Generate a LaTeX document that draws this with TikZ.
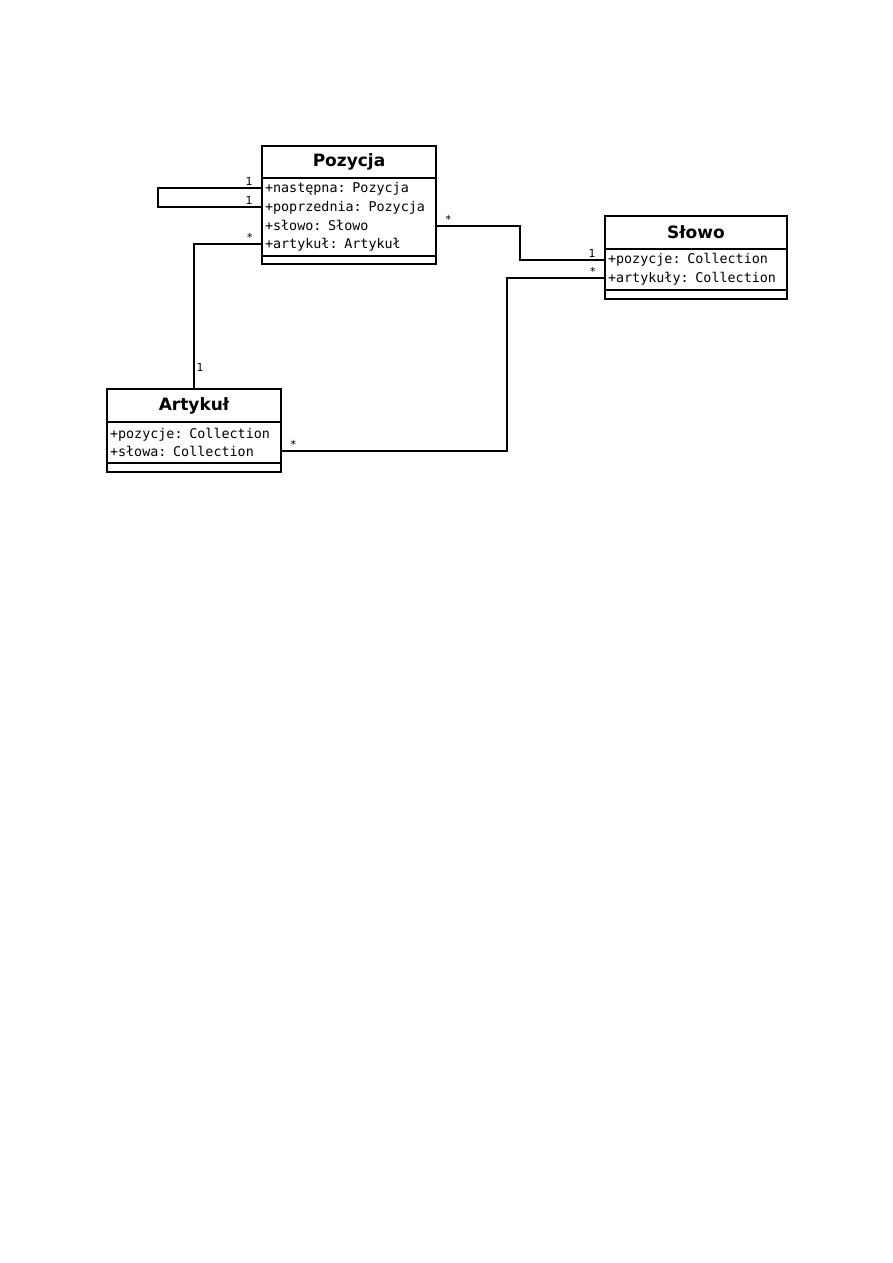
\documentclass[tikz,border=0pt]{standalone}
\usepackage{fontspec}
\newfontfamily\umlsans{DejaVu Sans}
\newfontfamily\umlmono{DejaVu Sans Mono}
\usepackage{tikz}
\usetikzlibrary{positioning}

\begin{document}
\begin{tikzpicture}[x=1pt, y=-1pt, line width=2pt,
  classname/.style={draw, inner sep=0pt, outer sep=0pt, minimum height=32pt, font=\umlsans\bfseries\fontsize{17}{20}\selectfont},
  classattr/.style={draw, inner xsep=3pt, inner ysep=0pt, outer sep=0pt, align=left, font=\umlmono\fontsize{13.4}{18.7}\selectfont},
  classops/.style={draw, inner sep=0pt, outer sep=0pt, minimum height=8pt},
  mult/.style={font=\umlsans\fontsize{11}{13}\selectfont, inner sep=1.5pt},
  multleft/.style={mult, anchor=south east, xshift=-7pt},
  multright/.style={mult, anchor=south west, xshift=7pt}]
\useasboundingbox (0,0) rectangle (893,1263);

\node[classname, minimum width=174pt] (pozN) at (349,162) {Pozycja};
\node[classattr, below=0pt of pozN, minimum height=78pt, text width=168pt] (pozA) {+następna: Pozycja\\+poprzednia: Pozycja\\+słowo: Słowo\\+artykuł: Artykuł};
\node[classops, below=0pt of pozA, minimum width=174pt] (pozO) {};

\node[classname, minimum width=182pt, minimum height=33pt] (sloN) at (696,232.5) {Słowo};
\node[classattr, below=0pt of sloN, minimum height=41pt, text width=176pt] (sloA) {+pozycje: Collection\\+artykuły: Collection};
\node[classops, below=0pt of sloA, minimum width=182pt, minimum height=9pt] (sloO) {};

\node[classname, minimum width=174pt, minimum height=33pt] (artN) at (194,405.5) {Artykuł};
\node[classattr, below=0pt of artN, minimum height=41pt, text width=168pt] (artA) {+pozycje: Collection\\+słowa: Collection};
\node[classops, below=0pt of artA, minimum width=174pt, minimum height=9pt] (artO) {};

\draw ([yshift=-10pt]pozA.north west) -- node[multleft, pos=0] {1} ++(-104,0) |- ([yshift=-29pt]pozA.north west) node[multleft] {1};
\draw ([yshift=-48pt]pozA.north east) -- node[multright, pos=0] {*} ++(84,0) |- ([yshift=-11pt]sloA.north west) node[multleft] {1};
\draw ([yshift=-66pt]pozA.north west) -- node[multleft, pos=0] {*} ++(-68,0) -- (artN.north) node[mult, anchor=south west, yshift=15pt] {1};
\draw ([yshift=-29pt]artA.north east) -- node[multright, pos=0] {*} ++(226,0) |- ([yshift=-29pt]sloA.north west) node[multleft] {*};
\end{tikzpicture}
\end{document}
